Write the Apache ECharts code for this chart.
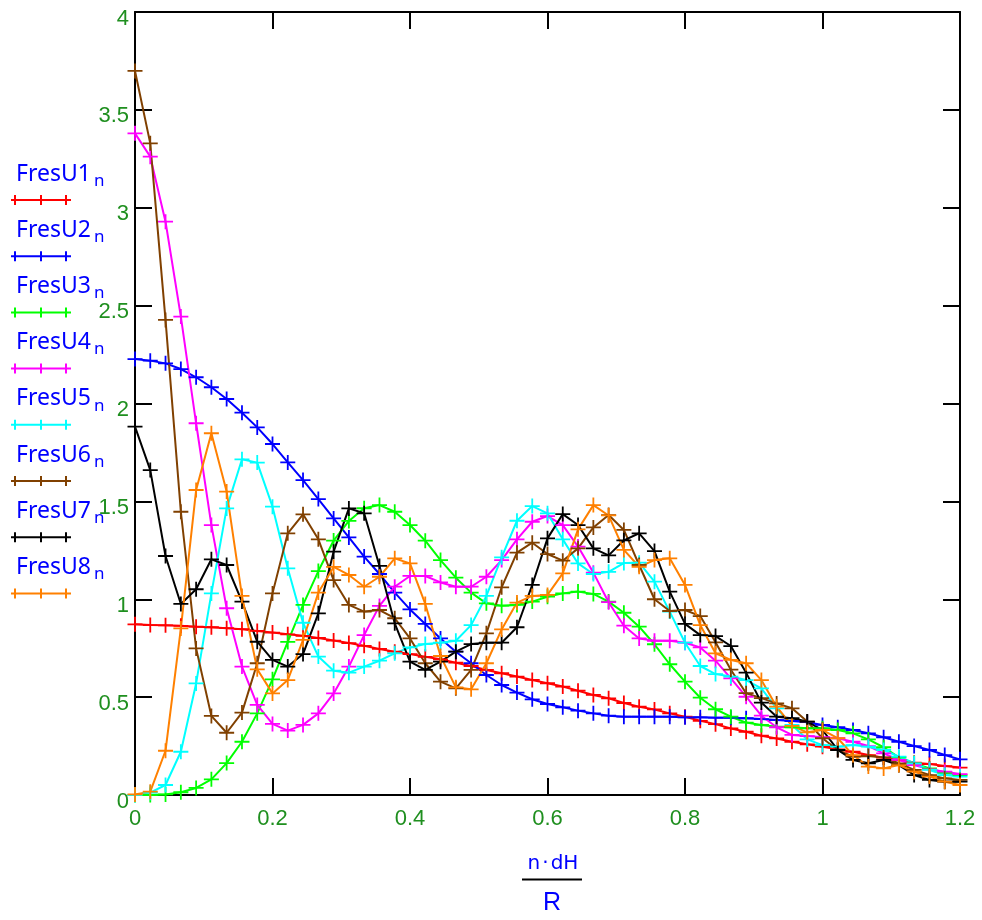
<!DOCTYPE html>
<html>
<head>
<meta charset="utf-8">
<script src="https://cdn.jsdelivr.net/npm/echarts@6/dist/echarts.min.js"></script>
<style>
  html, body { margin: 0; padding: 0; background: #fff; }
  #chart { width: 982px; height: 920px; }
</style>
</head>
<body>
<div id="chart"></div>
<script>
// x = n*dH/R, n = 0..54
const xValues = [0, 0.0222, 0.0444, 0.0667, 0.0889, 0.1111, 0.1333, 0.1556, 0.1778, 0.2,
  0.2222, 0.2444, 0.2667, 0.2889, 0.3111, 0.3333, 0.3556, 0.3778, 0.4, 0.4222,
  0.4444, 0.4667, 0.4889, 0.5111, 0.5333, 0.5556, 0.5778, 0.6, 0.6222, 0.6444,
  0.6667, 0.6889, 0.7111, 0.7333, 0.7556, 0.7778, 0.8, 0.8222, 0.8444, 0.8667,
  0.8889, 0.9111, 0.9333, 0.9556, 0.9778, 1, 1.0222, 1.0444, 1.0667, 1.0889,
  1.1111, 1.1333, 1.1556, 1.1778, 1.2];

const fresU1 = [0.872, 0.868, 0.867, 0.864, 0.86, 0.857, 0.852, 0.847, 0.838, 0.83,
  0.821, 0.813, 0.802, 0.789, 0.776, 0.762, 0.746, 0.732, 0.72, 0.706,
  0.693, 0.676, 0.659, 0.639, 0.622, 0.605, 0.588, 0.571, 0.554, 0.533,
  0.511, 0.494, 0.47, 0.451, 0.437, 0.417, 0.4, 0.379, 0.362, 0.34,
  0.323, 0.303, 0.289, 0.272, 0.259, 0.247, 0.233, 0.221, 0.204, 0.191,
  0.179, 0.165, 0.158, 0.148, 0.14];
const fresU2 = [2.227, 2.219, 2.205, 2.176, 2.134, 2.083, 2.023, 1.953, 1.878, 1.793,
  1.699, 1.609, 1.512, 1.413, 1.316, 1.218, 1.129, 1.034, 0.948, 0.874,
  0.8, 0.732, 0.673, 0.613, 0.562, 0.523, 0.489, 0.465, 0.448, 0.431,
  0.417, 0.405, 0.4, 0.4, 0.4, 0.4, 0.397, 0.397, 0.395, 0.395,
  0.392, 0.388, 0.383, 0.378, 0.372, 0.358, 0.346, 0.332, 0.315, 0.295,
  0.272, 0.25, 0.23, 0.204, 0.182];
const fresU3 = [0, 0, 0.003, 0.014, 0.036, 0.08, 0.163, 0.272, 0.417, 0.591,
  0.782, 0.971, 1.144, 1.3, 1.4, 1.465, 1.481, 1.447, 1.379, 1.299,
  1.2, 1.11, 1.034, 0.979, 0.967, 0.971, 0.988, 1.013, 1.03, 1.039,
  1.027, 0.988, 0.931, 0.86, 0.77, 0.668, 0.579, 0.497, 0.438, 0.4,
  0.37, 0.358, 0.349, 0.346, 0.341, 0.341, 0.332, 0.315, 0.284, 0.244,
  0.192, 0.162, 0.136, 0.114, 0.102];
const fresU4 = [3.38, 3.261, 2.929, 2.444, 1.899, 1.379, 0.954, 0.656, 0.46, 0.363,
  0.329, 0.358, 0.417, 0.519, 0.656, 0.817, 0.966, 1.064, 1.119, 1.119,
  1.086, 1.064, 1.064, 1.115, 1.2, 1.306, 1.396, 1.425, 1.379, 1.269,
  1.136, 0.985, 0.865, 0.8, 0.788, 0.788, 0.778, 0.754, 0.686, 0.596,
  0.502, 0.405, 0.346, 0.307, 0.301, 0.295, 0.29, 0.272, 0.25, 0.213,
  0.179, 0.153, 0.131, 0.119, 0.107];
const fresU5 = [0, 0.012, 0.051, 0.221, 0.57, 1.03, 1.464, 1.715, 1.698, 1.473,
  1.158, 0.88, 0.707, 0.635, 0.625, 0.656, 0.686, 0.724, 0.754, 0.771,
  0.778, 0.788, 0.868, 1.017, 1.214, 1.401, 1.476, 1.439, 1.306, 1.183,
  1.129, 1.14, 1.185, 1.187, 1.09, 0.937, 0.778, 0.659, 0.618, 0.605,
  0.587, 0.545, 0.443, 0.358, 0.284, 0.255, 0.247, 0.255, 0.247, 0.23,
  0.196, 0.162, 0.128, 0.102, 0.094];
const fresU6 = [3.699, 3.329, 2.427, 1.447, 0.749, 0.404, 0.318, 0.421, 0.673, 1.03,
  1.337, 1.434, 1.306, 1.098, 0.971, 0.937, 0.945, 0.903, 0.8, 0.673,
  0.579, 0.545, 0.639, 0.826, 1.061, 1.238, 1.289, 1.231, 1.197, 1.26,
  1.367, 1.43, 1.354, 1.175, 1.0, 0.94, 0.945, 0.914, 0.78, 0.64,
  0.52, 0.495, 0.468, 0.443, 0.375, 0.29, 0.23, 0.196, 0.199, 0.192,
  0.162, 0.128, 0.102, 0.085, 0.077];
const fresU7 = [1.882, 1.66, 1.221, 0.976, 1.051, 1.204, 1.175, 0.988, 0.783, 0.69,
  0.656, 0.72, 0.928, 1.243, 1.464, 1.439, 1.17, 0.877, 0.681, 0.639,
  0.681, 0.732, 0.771, 0.778, 0.778, 0.857, 1.073, 1.311, 1.435, 1.379,
  1.26, 1.224, 1.301, 1.337, 1.246, 1.039, 0.874, 0.817, 0.812, 0.761,
  0.625, 0.472, 0.4, 0.392, 0.375, 0.332, 0.23, 0.179, 0.162, 0.179,
  0.153, 0.102, 0.077, 0.068, 0.068];
const fresU8 = [0.003, 0.017, 0.226, 0.851, 1.558, 1.848, 1.55, 1.017, 0.642, 0.519,
  0.587, 0.792, 1.034, 1.165, 1.124, 1.064, 1.115, 1.209, 1.183, 0.976,
  0.71, 0.55, 0.54, 0.673, 0.846, 0.983, 1.017, 1.022, 1.132, 1.357,
  1.481, 1.428, 1.252, 1.166, 1.2, 1.209, 1.073, 0.868, 0.724, 0.69,
  0.673, 0.587, 0.451, 0.353, 0.32, 0.332, 0.29, 0.204, 0.145, 0.136,
  0.153, 0.119, 0.094, 0.068, 0.051];

const seriesNames = ['FresU1', 'FresU2', 'FresU3', 'FresU4', 'FresU5', 'FresU6', 'FresU7', 'FresU8'];
const seriesData = [fresU1, fresU2, fresU3, fresU4, fresU5, fresU6, fresU7, fresU8];
const seriesColors = ['#ff0000', '#0000ff', '#00ff00', '#ff00ff', '#00ffff', '#804000', '#000000', '#ff8000'];

const PLUS = 'path://M44,0H56V44H100V56H56V100H44V56H0V44H44Z';
const labelGreen = '#1f8f1f';
const narrowFont = 'Liberation Sans Narrow, Liberation Sans, sans-serif';
const sansFont = 'Liberation Sans, Arial, sans-serif';
const legendFont = 'Noto Sans, DejaVu Sans, sans-serif';

const chart = echarts.init(document.getElementById('chart'), null, { renderer: 'canvas' });

function fmt(v) {
  return String(Math.round(v * 10) / 10);
}

const series = seriesNames.map((name, i) => ({
  name: name,
  type: 'line',
  data: xValues.map((x, k) => [x, seriesData[i][k]]),
  symbol: PLUS,
  symbolSize: 15,
  showAllSymbol: true,
  clip: false,
  itemStyle: { color: seriesColors[i] },
  lineStyle: { color: seriesColors[i], width: 2 },
  emphasis: { disabled: true }
}));

// legend: name with subscript n, then a short line with three markers
const ctx = document.createElement('canvas').getContext('2d');
ctx.font = '23px ' + legendFont;
const graphics = [];
seriesNames.forEach((name, i) => {
  const ty = 174 + i * 56.2;
  const ly = 200 + i * 56.2;
  const w = ctx.measureText(name).width;
  graphics.push({
    type: 'text', x: 16, y: ty,
    style: { text: name, fill: '#0000ff', font: '23px ' + legendFont, align: 'left', verticalAlign: 'middle' }
  });
  graphics.push({
    type: 'text', x: 16 + w + 3, y: ty + 7,
    style: { text: 'n', fill: '#0000ff', font: '17px ' + legendFont, align: 'left', verticalAlign: 'middle' }
  });
  graphics.push({
    type: 'line', shape: { x1: 11, y1: ly, x2: 71, y2: ly },
    style: { stroke: seriesColors[i], lineWidth: 2 }
  });
  [15, 41, 66].forEach(mx => {
    graphics.push({
      type: 'line', shape: { x1: mx, y1: ly - 5, x2: mx, y2: ly + 5 },
      style: { stroke: seriesColors[i], lineWidth: 2 }
    });
  });
});
// x axis name: n·dH over R
graphics.push({
  type: 'text', x: 553, y: 864,
  style: { text: 'n\u200a\u00b7\u200adH', fill: '#0000ff', font: '20px DejaVu Sans, sans-serif', align: 'center', verticalAlign: 'middle' }
});
graphics.push({
  type: 'line', shape: { x1: 522, y1: 879.5, x2: 582, y2: 879.5 },
  style: { stroke: '#000', lineWidth: 2 }
});
graphics.push({
  type: 'text', x: 552, y: 903,
  style: { text: 'R', fill: '#0000ff', font: '25px ' + sansFont, align: 'center', verticalAlign: 'middle' }
});

function axisLine() {
  return { show: true, onZero: false, lineStyle: { color: '#000', width: 2 } };
}
function tick() {
  return { show: true, inside: true, length: 17, lineStyle: { color: '#000', width: 2 } };
}

const option = {
  animation: false,
  backgroundColor: '#fff',
  grid: { left: 135, right: 22, top: 12, bottom: 125, containLabel: false },
  xAxis: [
    {
      type: 'value', min: 0, max: 1.2, interval: 0.2, position: 'bottom',
      axisLine: axisLine(), axisTick: tick(), splitLine: { show: false },
      axisLabel: { color: labelGreen, fontSize: 22, fontFamily: narrowFont, margin: 13, formatter: fmt }
    },
    {
      type: 'value', min: 0, max: 1.2, interval: 0.2, position: 'top',
      axisLine: axisLine(), axisTick: tick(), splitLine: { show: false },
      axisLabel: { show: false }
    }
  ],
  yAxis: [
    {
      type: 'value', min: 0, max: 4, interval: 0.5, position: 'left',
      axisLine: axisLine(), axisTick: tick(), splitLine: { show: false },
      axisLabel: {
        color: labelGreen, fontSize: 22, fontFamily: narrowFont, margin: 6,
        verticalAlign: 'top', lineHeight: 13, formatter: fmt
      }
    },
    {
      type: 'value', min: 0, max: 4, interval: 0.5, position: 'right',
      axisLine: axisLine(), axisTick: tick(), splitLine: { show: false },
      axisLabel: { show: false }
    }
  ],
  series: series,
  graphic: graphics
};

chart.setOption(option);
</script>
</body>
</html>
